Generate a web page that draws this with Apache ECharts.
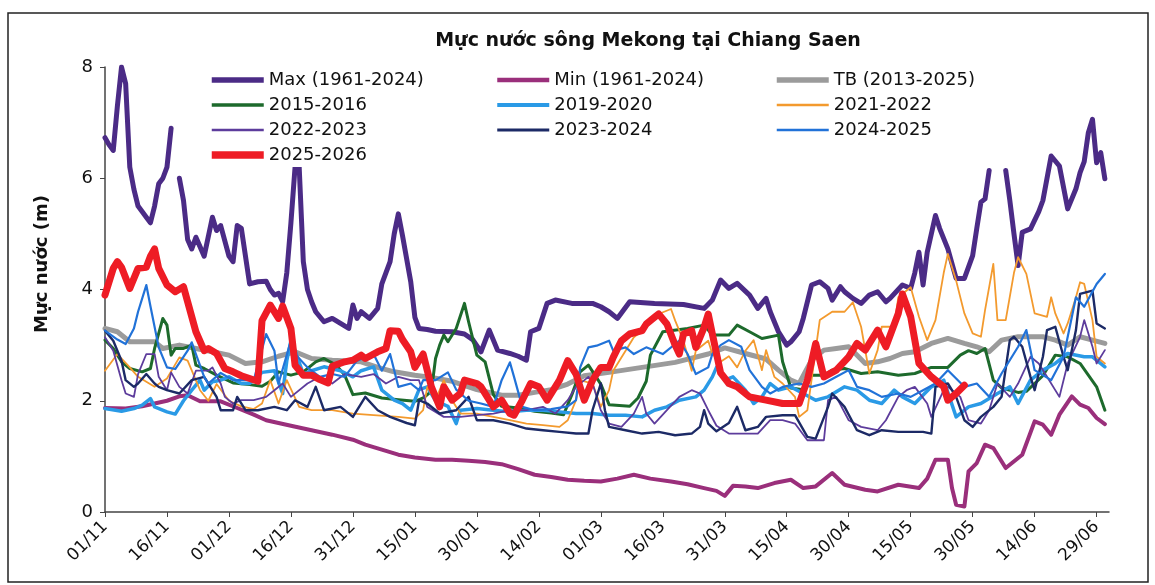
<!DOCTYPE html>
<html><head><meta charset="utf-8">
<script src="https://cdn.jsdelivr.net/npm/echarts@6/dist/echarts.min.js"></script>
<style>html,body{margin:0;padding:0;background:#fff}#c{width:1155px;height:585px}</style>
</head><body><div id="c"></div>
<script>
// x = days since 01/11 ; y = water level (m)
const tickDays = [0,15,30,45,60,75,90,105,120,135,150,165,180,195,210,225,240];
const tickLabels = ['01/11','16/11','01/12','16/12','31/12','15/01','30/01','14/02','01/03','16/03','31/03','15/04','30/04','15/05','30/05','14/06','29/06'];

const maxLevel = [[0,6.73],[1,6.6],[2,6.5],[3,7.3],[4,8.0],[5,7.7],[6,6.2],[7,5.8],[8,5.5],[10,5.3],[11,5.2],[12,5.5],[13,5.9],[14,6.0],[15,6.2],[16,6.9],[17,'-'],[18,6.0],[19,5.6],[20,4.9],[21,4.73],[22,4.94],[24,4.6],[26,5.3],[27,5.06],[28,5.15],[30,4.6],[31,4.5],[32,5.15],[33,5.1],[35,4.1],[37,4.14],[39,4.15],[40,4.0],[41,3.9],[42,3.93],[43,3.78],[44,4.3],[45,5.2],[46,6.2],[47,6.2],[48,4.5],[49,4.0],[50,3.78],[51,3.6],[53,3.42],[55,3.48],[57,3.39],[59,3.3],[60,3.72],[61,3.48],[62,3.6],[64,3.48],[66,3.66],[67,4.1],[69,4.5],[70,5.0],[71,5.36],[72,4.97],[74,4.14],[75,3.5],[76,3.3],[78,3.28],[80,3.25],[84,3.24],[87,3.2],[89,3.1],[91,2.88],[93,3.27],[95,2.91],[98,2.85],[100,2.8],[102,2.73],[103,3.24],[105,3.3],[107,3.75],[109,3.81],[113,3.75],[118,3.75],[120,3.69],[122,3.6],[124,3.48],[127,3.78],[133,3.75],[140,3.73],[145,3.66],[147,3.81],[149,4.17],[151,4.02],[153,4.11],[156,3.9],[158,3.66],[160,3.84],[161,3.6],[163,3.24],[165,3.0],[166,3.06],[168,3.24],[169,3.48],[171,4.08],[173,4.14],[175,4.02],[176,3.81],[178,4.05],[179,3.96],[181,3.84],[183,3.75],[185,3.9],[187,3.96],[189,3.78],[190,3.84],[193,4.08],[195,4.02],[196,4.3],[197,4.67],[198,4.08],[199,4.67],[201,5.33],[202,5.1],[204,4.73],[206,4.2],[208,4.2],[210,4.61],[211,5.1],[212,5.57],[213,5.63],[214,6.14],[216,'-'],[218,6.14],[219,5.6],[220,5.0],[221,4.43],[222,5.03],[224,5.09],[226,5.4],[227,5.6],[229,6.4],[231,6.22],[233,5.45],[235,5.81],[236,6.1],[237,6.3],[238,6.82],[239,7.06],[240,6.28],[241,6.46],[242,5.99]];

const minLevel = [[0,1.87],[5,1.86],[9,1.9],[12,1.95],[15,2.0],[18,2.08],[20,2.1],[23,1.99],[28,1.99],[32,1.87],[36,1.75],[39,1.65],[45,1.55],[50,1.47],[55,1.39],[60,1.3],[63,1.21],[67,1.12],[71,1.03],[75,0.98],[80,0.94],[84,0.94],[88,0.92],[92,0.9],[96,0.86],[100,0.77],[104,0.67],[108,0.63],[112,0.58],[116,0.56],[120,0.55],[124,0.6],[128,0.67],[132,0.6],[137,0.55],[141,0.5],[145,0.43],[148,0.38],[150,0.29],[152,0.47],[155,0.46],[158,0.43],[162,0.52],[166,0.58],[169,0.43],[172,0.46],[176,0.7],[179,0.49],[184,0.4],[187,0.37],[192,0.49],[197,0.43],[199,0.6],[201,0.94],[204,0.94],[205,0.43],[206,0.13],[208,0.1],[209,0.73],[211,0.88],[213,1.21],[215,1.15],[218,0.79],[222,1.03],[225,1.63],[227,1.57],[229,1.39],[231,1.75],[234,2.08],[236,1.93],[238,1.87],[240,1.69],[242,1.58]];

const avgLevel = [[0,3.3],[3,3.24],[6,3.06],[9,3.06],[12,3.06],[14,2.94],[18,3.0],[22,2.94],[26,2.88],[30,2.82],[34,2.67],[38,2.7],[42,2.8],[46,2.88],[50,2.76],[55,2.73],[62,2.7],[66,2.6],[70,2.52],[75,2.46],[79,2.42],[84,2.35],[90,2.2],[96,2.1],[100,2.1],[104,2.15],[108,2.2],[112,2.3],[116,2.45],[122,2.51],[130,2.6],[138,2.69],[146,2.84],[150,2.95],[155,2.85],[160,2.75],[163,2.55],[166,2.37],[168,2.31],[171,2.73],[174,2.91],[177,2.94],[180,2.97],[184,2.67],[187,2.7],[190,2.76],[193,2.85],[196,2.88],[200,3.03],[204,3.12],[208,3.03],[211,2.97],[214,2.88],[217,3.09],[221,3.15],[224,3.15],[227,3.15],[230,3.09],[233,3.0],[236,3.15],[239,3.09],[242,3.03]];

const y2015 = [[0,3.09],[2,2.94],[4,2.7],[6,2.58],[9,2.52],[11,2.58],[12,2.94],[14,3.48],[15,3.36],[16,2.82],[17,2.94],[19,2.94],[21,3.0],[22,2.64],[24,2.58],[27,2.46],[31,2.32],[35,2.29],[38,2.26],[40,2.35],[42,2.52],[45,2.46],[48,2.52],[51,2.7],[53,2.76],[56,2.64],[58,2.46],[60,2.11],[63,2.14],[67,2.05],[71,2.02],[75,1.99],[77,2.05],[79,2.17],[80,2.76],[81,3.0],[82,3.18],[83,3.06],[85,3.3],[87,3.75],[88,3.42],[90,2.82],[92,2.7],[94,2.11],[96,1.9],[100,1.87],[104,1.81],[108,1.78],[111,1.75],[113,2.11],[115,2.52],[117,2.64],[120,2.3],[122,1.93],[127,1.9],[129,2.05],[131,2.35],[132,2.82],[135,3.24],[141,3.3],[145,3.36],[147,3.18],[151,3.18],[153,3.36],[156,3.24],[159,3.12],[163,3.18],[164,2.7],[166,2.23],[169,2.2],[171,2.46],[174,2.46],[176,2.55],[179,2.58],[183,2.49],[187,2.52],[192,2.46],[196,2.49],[200,2.6],[204,2.6],[207,2.82],[209,2.9],[211,2.85],[213,2.94],[215,2.37],[217,2.23],[221,2.15],[223,2.17],[227,2.45],[230,2.82],[233,2.79],[236,2.67],[238,2.46],[240,2.25],[242,1.83]];

const y2019 = [[0,1.86],[4,1.81],[7,1.86],[9,1.92],[11,2.04],[12,1.89],[15,1.8],[17,1.76],[19,2.0],[21,2.19],[23,2.37],[24,2.19],[26,2.34],[28,2.37],[30,2.43],[33,2.31],[35,2.31],[38,2.51],[41,2.54],[43,2.13],[44,2.72],[45,3.08],[46,2.9],[48,2.48],[50,2.54],[53,2.61],[57,2.54],[60,2.43],[62,2.54],[65,2.61],[67,2.19],[70,2.01],[72,1.95],[74,1.83],[76,2.2],[78,2.25],[80,2.0],[83,1.9],[85,1.59],[86,1.83],[90,1.86],[94,1.83],[98,1.8],[102,1.83],[106,1.83],[110,1.8],[114,1.77],[118,1.77],[122,1.74],[126,1.74],[130,1.71],[133,1.83],[136,1.89],[139,2.01],[143,2.07],[145,2.19],[147,2.43],[148,2.6],[150,2.37],[152,2.43],[155,2.19],[157,1.95],[159,2.07],[161,2.31],[163,2.19],[166,2.25],[169,2.13],[172,2.01],[175,2.07],[179,2.25],[182,2.19],[185,2.01],[188,1.95],[191,2.19],[193,2.07],[196,1.95],[200,2.25],[203,2.37],[206,1.71],[209,1.89],[212,1.95],[216,2.13],[219,2.25],[221,1.95],[224,2.37],[227,2.55],[230,2.67],[233,2.85],[237,2.79],[239,2.79],[242,2.61]];

const y2021 = [[0,2.54],[3,2.84],[6,2.6],[8,2.43],[12,2.25],[15,2.4],[18,2.78],[20,2.72],[23,2.19],[25,2.0],[27,2.3],[30,2.0],[33,1.9],[36,1.85],[38,1.95],[40,2.37],[42,1.95],[44,2.37],[47,1.89],[50,1.83],[55,1.83],[60,1.77],[65,1.74],[71,1.71],[75,1.68],[77,1.83],[78,2.25],[80,2.01],[82,2.37],[84,2.01],[86,1.77],[90,1.77],[94,1.71],[98,1.65],[102,1.59],[106,1.56],[110,1.53],[112,1.65],[114,2.01],[115,2.37],[118,2.31],[120,1.89],[122,2.19],[123,2.54],[126,2.9],[128,3.14],[131,3.32],[134,3.56],[137,3.65],[138,3.44],[140,3.08],[142,2.54],[143,2.9],[146,3.08],[147,2.84],[149,2.7],[151,2.8],[153,2.6],[155,2.9],[157,3.09],[159,2.55],[160,2.91],[162,2.43],[164,2.31],[167,2.07],[168,1.71],[170,1.83],[172,2.91],[173,3.45],[176,3.6],[179,3.6],[181,3.77],[183,3.33],[185,2.49],[187,2.91],[188,3.33],[191,3.33],[192,3.86],[195,4.04],[197,3.51],[199,3.09],[201,3.45],[203,4.3],[204,4.64],[206,4.16],[208,3.57],[210,3.21],[212,3.15],[213,3.63],[215,4.46],[216,3.45],[218,3.45],[220,4.3],[221,4.58],[223,4.28],[225,3.57],[228,3.51],[229,3.86],[230,3.57],[232,3.21],[233,3.39],[235,3.86],[236,4.13],[237,4.1],[239,3.45],[240,2.79],[242,2.67]];

const y2022 = [[0,3.14],[2,2.9],[4,2.37],[5,2.13],[7,2.07],[8,2.48],[10,2.84],[12,2.84],[13,2.43],[15,2.19],[16,2.51],[18,2.25],[20,2.13],[22,2.54],[25,2.54],[26,2.6],[28,2.31],[29,2.07],[31,1.95],[33,2.01],[36,2.01],[39,2.07],[41,2.19],[43,2.31],[45,2.07],[49,2.31],[52,2.43],[55,2.31],[58,2.48],[62,2.43],[65,2.48],[68,2.31],[71,2.43],[74,2.37],[76,2.37],[78,1.89],[82,1.71],[86,1.71],[90,1.74],[94,1.77],[98,1.83],[102,1.83],[106,1.89],[109,1.77],[112,2.01],[114,2.25],[117,2.43],[118,2.31],[120,1.83],[122,1.59],[125,1.53],[128,1.77],[130,2.07],[131,1.77],[133,1.59],[136,1.83],[139,2.07],[142,2.19],[144,2.13],[146,1.83],[148,1.55],[151,1.41],[155,1.41],[158,1.41],[161,1.65],[164,1.65],[167,1.59],[170,1.29],[174,1.29],[175,2.01],[177,2.07],[180,1.65],[183,1.53],[187,1.47],[189,1.65],[192,2.07],[194,2.19],[196,2.25],[199,1.95],[200,1.71],[203,2.19],[204,2.25],[207,2.07],[209,1.65],[212,1.59],[214,1.83],[216,2.31],[219,2.07],[221,2.31],[224,2.79],[226,2.67],[228,2.43],[231,2.07],[233,2.67],[236,3.15],[237,3.45],[239,2.97],[240,2.67],[242,2.91]];

const y2023 = [[0,3.26],[2,3.08],[4,2.72],[5,2.37],[7,2.25],[8,2.31],[10,2.48],[12,2.31],[13,2.25],[15,2.19],[18,2.13],[21,2.37],[24,2.43],[25,2.31],[27,2.07],[28,1.83],[31,1.83],[32,2.07],[34,1.83],[37,1.83],[41,1.89],[44,1.83],[46,2.01],[49,1.89],[51,2.25],[53,1.83],[57,1.89],[60,1.71],[63,2.07],[66,1.83],[69,1.71],[73,1.6],[75,1.56],[76,2.01],[78,1.95],[81,1.77],[85,1.83],[88,2.07],[90,1.65],[94,1.65],[98,1.59],[102,1.5],[106,1.47],[110,1.44],[114,1.41],[117,1.41],[118,1.83],[120,2.31],[121,1.83],[122,1.53],[126,1.47],[130,1.41],[134,1.44],[138,1.38],[142,1.41],[144,1.53],[145,1.83],[146,1.59],[148,1.45],[151,1.6],[153,1.89],[155,1.47],[158,1.53],[160,1.71],[164,1.74],[167,1.74],[170,1.35],[172,1.32],[175,1.89],[176,2.13],[179,1.89],[182,1.47],[185,1.38],[188,1.47],[192,1.44],[195,1.44],[198,1.44],[200,1.41],[201,2.25],[204,2.31],[206,2.07],[208,1.65],[210,1.53],[212,1.71],[215,1.89],[217,2.07],[219,3.09],[220,3.15],[222,2.97],[224,2.43],[225,2.19],[227,2.79],[228,3.27],[230,3.33],[232,2.79],[233,2.55],[235,3.27],[236,3.92],[239,3.98],[240,3.39],[242,3.3]];

const y2024 = [[0,3.26],[3,3.1],[5,3.02],[7,3.3],[8,3.6],[10,4.08],[11,3.7],[13,2.96],[15,2.6],[17,2.57],[20,2.9],[21,3.05],[22,2.84],[24,2.43],[25,2.31],[28,2.5],[31,2.37],[36,2.37],[39,3.2],[41,2.9],[42,2.31],[45,3.08],[46,2.84],[49,2.6],[52,2.43],[55,2.48],[58,2.43],[61,2.72],[65,2.84],[67,2.54],[69,2.84],[71,2.25],[74,2.31],[76,2.19],[77,2.37],[80,2.37],[83,2.51],[85,2.2],[88,2.0],[91,1.95],[94,1.89],[96,2.37],[98,2.69],[99,2.43],[101,1.89],[104,1.83],[108,1.85],[112,1.9],[114,2.01],[115,2.6],[117,2.96],[119,2.99],[122,3.08],[123,2.9],[126,2.96],[128,2.84],[131,2.96],[135,2.84],[138,3.02],[139,3.08],[141,2.84],[143,2.48],[146,2.6],[147,2.84],[149,3.0],[151,3.09],[154,2.97],[156,2.55],[159,2.25],[161,2.13],[164,2.25],[168,2.31],[171,2.25],[174,2.31],[177,2.43],[180,2.55],[182,2.25],[185,2.19],[188,2.07],[192,2.13],[195,2.07],[198,2.19],[201,2.31],[204,2.55],[208,2.25],[211,2.31],[214,2.07],[217,2.49],[221,2.97],[223,3.27],[225,2.55],[229,2.37],[232,2.79],[235,3.86],[237,3.69],[240,4.1],[242,4.28]];

const y2025 = [[0,3.9],[2,4.38],[3,4.5],[4,4.4],[6,4.02],[8,4.38],[10,4.4],[11,4.6],[12,4.73],[13,4.38],[15,4.08],[17,3.96],[19,4.05],[20,3.78],[22,3.24],[24,2.9],[25,2.94],[27,2.85],[29,2.58],[31,2.52],[33,2.45],[35,2.4],[37,2.35],[38,3.44],[40,3.72],[42,3.48],[43,3.7],[45,3.3],[46,2.64],[48,2.46],[50,2.46],[52,2.38],[54,2.32],[55,2.62],[58,2.7],[60,2.73],[62,2.82],[63,2.76],[66,2.88],[68,2.94],[69,3.26],[71,3.25],[72,3.1],[74,2.88],[75,2.6],[77,2.84],[79,2.25],[81,1.89],[82,2.25],[84,2.01],[86,2.13],[87,2.37],[90,2.31],[91,2.25],[93,2.01],[94,1.89],[96,2.01],[98,1.77],[99,1.74],[101,2.01],[103,2.31],[105,2.25],[107,2.01],[110,2.37],[112,2.72],[114,2.48],[116,2.01],[118,2.37],[120,2.6],[122,2.6],[123,2.78],[125,3.08],[127,3.2],[130,3.26],[131,3.38],[133,3.5],[134,3.56],[136,3.38],[138,3.0],[139,2.84],[140,3.2],[142,3.26],[143,2.96],[145,3.32],[146,3.56],[147,3.2],[149,2.5],[151,2.31],[153,2.25],[156,2.07],[160,2.01],[164,1.95],[168,1.95],[170,2.37],[172,3.03],[174,2.43],[177,2.55],[180,2.79],[182,3.03],[184,2.91],[187,3.27],[189,2.97],[192,3.57],[193,3.92],[195,3.51],[197,2.67],[200,2.43],[203,2.25],[204,2.01],[206,2.13],[208,2.28]];

const seriesNames = ['Max (1961-2024)','Min (1961-2024)','TB (2013-2025)','2015-2016','2019-2020','2021-2022','2022-2023','2023-2024','2024-2025','2025-2026'];
const seriesData = [maxLevel, minLevel, avgLevel, y2015, y2019, y2021, y2022, y2023, y2024, y2025];
const seriesColors = ['#4b2b86','#9a2f7b','#9b9b9b','#1d6a2c','#2a9ae6','#f39a2e','#5d3c9c','#1c2a66','#2172d8','#ee1c25'];
const seriesWidths = [5,4,5,3,3.5,1.8,1.8,2.4,2.2,7];
const legendColumns = [[0,3,6,9],[1,4,7],[2,5,8]];
const legendLefts = [206,493,772];

const chart = echarts.init(document.getElementById('c'), null, {renderer:'canvas'});
const FONT = 'DejaVu Sans';
const legendCommon = {
  orient:'vertical', top:68, itemWidth:52, itemHeight:14, itemGap:5,
  padding:[2,6,2,2], backgroundColor:'#ffffff', selectedMode:false,
  itemStyle:{opacity:0},
  textStyle:{fontFamily:FONT, fontSize:18, color:'#111', lineHeight:20}
};
chart.setOption({
  animation:false,
  backgroundColor:'#ffffff',
  title:{text:'Mực nước sông Mekong tại Chiang Saen', left:643, top:27, textAlign:'center',
    textStyle:{fontFamily:FONT, fontSize:19, fontWeight:'bold', color:'#111'}},
  legend: legendColumns.map((col,k)=>Object.assign({
    left:legendLefts[k],
    data: col.map(i=>({name:seriesNames[i], itemStyle:{opacity:0},
      lineStyle:{color:seriesColors[i], width:Math.max(2.5, seriesWidths[i]+0.5), cap:'butt'}}))
  }, legendCommon)),
  grid:{left:105, right:46, top:67, bottom:73, containLabel:false},
  xAxis:{type:'value', min:0, max:243, interval:15,
    axisLine:{show:true, lineStyle:{color:'#444', width:1.5}},
    axisTick:{show:true, length:5, lineStyle:{color:'#444'}, customValues:tickDays},
    axisLabel:{rotate:45, margin:12, fontFamily:FONT, fontSize:17, color:'#111', customValues:tickDays,
      formatter:(v)=>{const i=tickDays.indexOf(Math.round(v)); return i>=0?tickLabels[i]:'';}},
    splitLine:{show:false}},
  yAxis:{type:'value', min:0, max:8, interval:2,
    axisLine:{show:true, lineStyle:{color:'#444', width:1.5}},
    axisTick:{show:true, length:5, lineStyle:{color:'#444'}},
    axisLabel:{margin:12, fontFamily:FONT, fontSize:18, color:'#111'},
    splitLine:{show:false}},
  graphic:[
    {type:'rect', shape:{x:8, y:13, width:1140, height:569}, style:{fill:'none', stroke:'#222', lineWidth:1.5}, z:-1},
    {type:'text', x:42, y:264, rotation:Math.PI/2, style:{text:'Mực nước (m)', fontFamily:FONT, fontSize:18, fontWeight:'bold', fill:'#111', align:'center', verticalAlign:'middle'}}
  ],
  series: seriesNames.map((n,i)=>({
    name:n, type:'line', data:seriesData[i], symbol:'none', smooth:false, connectNulls:false,
    lineStyle:{color:seriesColors[i], width:seriesWidths[i], join:'round', cap:'round'},
    itemStyle:{color:seriesColors[i]}, z:2+i/100
  }))
});
</script>
</body></html>
